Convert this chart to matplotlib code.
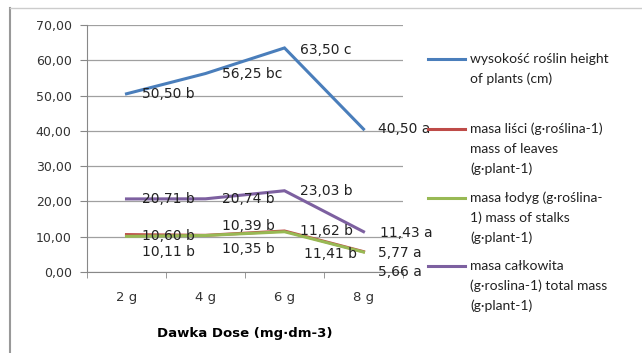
import matplotlib
matplotlib.use("Agg")
from matplotlib import pyplot as plt
from matplotlib.lines import Line2D
import numpy as np

# data
doses = ["2 g", "4 g", "6 g", "8 g"]
height = [50.50, 56.25, 63.50, 40.50]
leaves = [10.60, 10.39, 11.62, 5.77]
stalks = [10.11, 10.35, 11.41, 5.66]
total = [20.71, 20.74, 23.03, 11.43]
height_lbl = ["50,50 b", "56,25 bc", "63,50 c", "40,50 a"]
leaves_lbl = ["10,60 b", "10,39 b", "11,62 b", "5,77 a"]
stalks_lbl = ["10,11 b", "10,35 b", "11,41 b", "5,66 a"]
total_lbl = ["20,71 b", "20,74 b", "23,03 b", "11,43 a"]
names = ["wysokość roślin height\nof plants (cm)",
         "masa liści (g·roślina-1)\nmass of leaves\n(g·plant-1)",
         "masa łodyg (g·roślina-\n1) mass of stalks\n(g·plant-1)",
         "masa całkowita\n(g·roslina-1) total mass\n(g·plant-1)"]

colors = ["#4a7ebb", "#be4b48", "#98b954", "#7d60a0"]
# label offsets in pixels (dx, dy), as placed in the original
offsets = [
    [(15, 0), (16, 0), (16, -2), (15, 0)],
    [(15, -1), (16, 9), (16, 0), (15, -1)],
    [(15, -16), (16, -14), (19, -22), (15, -20)],
    [(15, 0), (16, 0), (16, 0), (17, -1)],
]
W, H = 642, 353

fig = plt.figure(figsize=(6.42, 3.53), dpi=100)
ax = fig.add_axes([87/W, 1-272/H, (403-87)/W, (272-25)/H])

x = np.arange(len(doses))
series = [height, leaves, stalks, total]
labels = [height_lbl, leaves_lbl, stalks_lbl, total_lbl]
for i in range(4):
    ax.plot(x, series[i], color=colors[i], lw=2.2, solid_joinstyle="miter")
    for j in range(4):
        ax.annotate(labels[i][j], (x[j], series[i][j]), xytext=offsets[i][j],
                    textcoords="offset pixels", ha="left", va="center",
                    fontsize=10, color="#222222")

ax.set_xlim(-0.5, 3.5)
ax.set_ylim(0, 70)
ax.set_yticks(np.arange(0, 71, 10))
ax.set_yticklabels(["%d,00" % v for v in range(0, 71, 10)], fontsize=9, color="#333333")
ax.set_xticks(x)
ax.set_xticklabels(doses, fontsize=9.5, color="#333333")
ax.set_xticks(np.arange(-0.5, 4, 1), minor=True)
ax.tick_params(axis="x", which="major", length=0, pad=14)
ax.tick_params(axis="x", which="minor", length=4, color="#888888")
ax.tick_params(axis="y", length=5, color="#888888", pad=6)
ax.grid(axis="y", color="#a0a0a0", lw=0.9)
ax.set_axisbelow(True)
for s in ["top", "right"]:
    ax.spines[s].set_visible(False)
ax.spines["left"].set_color("#888888")
ax.spines["bottom"].set_color("#888888")
ax.set_xlabel("Dawka Dose (mg·dm-3)", fontsize=9.5, fontweight="bold", labelpad=16)

# legend drawn by hand so the key line sits on the first text line
leg_y = [59, 129, 198, 266]
for i in range(4):
    y = 1 - leg_y[i]/H
    fig.add_artist(Line2D([428/W, 465/W], [y, y], color=colors[i], lw=2.2))
    for k, line in enumerate(names[i].split("\n")):
        fig.text(470/W, 1 - (leg_y[i] + 20*k)/H, line, family="Lato", fontsize=10,
                 color="#222222", ha="left", va="center")

# outer frame of the pasted picture
fig.add_artist(Line2D([10/W, 10/W], [0, 1-8/H], color="#999999", lw=1.5))
fig.add_artist(Line2D([10/W, 1], [1-8/H, 1-8/H], color="#cccccc", lw=1))

fig.savefig("out.png", dpi=100)
